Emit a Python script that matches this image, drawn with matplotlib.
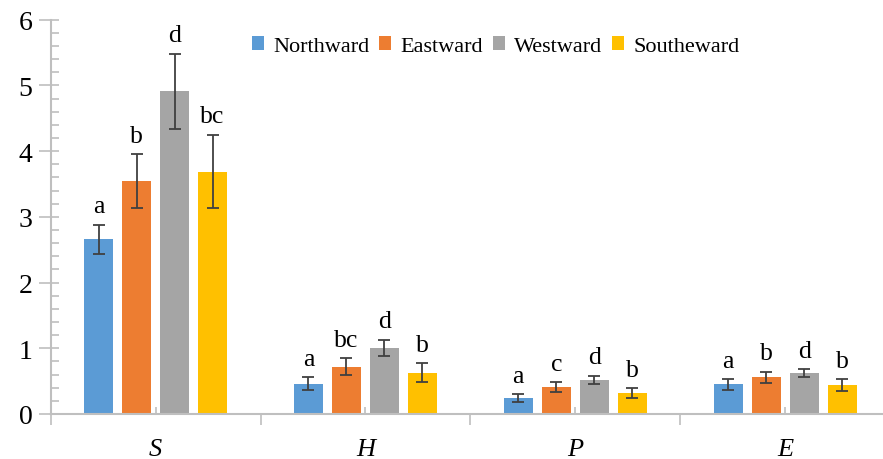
import matplotlib.pyplot as plt
import numpy as np

plt.rcParams['font.family'] = ['Liberation Serif', 'DejaVu Serif']

categories = ['S', 'H', 'P', 'E']
series = ['Northward', 'Eastward', 'Westward', 'Southeward']
colors = ['#5B9BD5', '#ED7D31', '#A5A5A5', '#FFC000']

# means per series across categories S, H, P, E
northward = [2.66, 0.46, 0.24, 0.45]
eastward = [3.54, 0.72, 0.41, 0.56]
westward = [4.91, 1.01, 0.52, 0.62]
southeward = [3.69, 0.63, 0.32, 0.44]

northward_err = [0.22, 0.10, 0.06, 0.08]
eastward_err = [0.41, 0.13, 0.075, 0.085]
westward_err = [0.57, 0.12, 0.06, 0.06]
southeward_err = [0.56, 0.14, 0.075, 0.085]

northward_sig = ['a', 'a', 'a', 'a']
eastward_sig = ['b', 'bc', 'c', 'b']
westward_sig = ['d', 'd', 'd', 'd']
southeward_sig = ['bc', 'b', 'b', 'b']

values = [northward, eastward, westward, southeward]
errors = [northward_err, eastward_err, westward_err, southeward_err]
letters = [northward_sig, eastward_sig, westward_sig, southeward_sig]

W, H = 883, 460
fig = plt.figure(figsize=(W / 100, H / 100), dpi=100)
left = 50.7 / W
bottom = (H - 415) / H
top = (H - 20.7) / H
ax = fig.add_axes([left, bottom, 1 - left, top - bottom])

x = np.arange(len(categories))
step = 0.181
width = 0.138
axis_gray = '#BFBFBF'

for i, name in enumerate(series):
    xs = x + (i - 1.5) * step
    ax.bar(xs, values[i], width, color=colors[i], label=name, zorder=2)
    ax.errorbar(xs, values[i], yerr=errors[i], fmt='none', ecolor='#404040',
                elinewidth=1.3, capsize=4, capthick=1.3, zorder=3)
    for xv, v, e, s in zip(xs, values[i], errors[i], letters[i]):
        ax.annotate(s, (xv, v + e), xytext=(0, 9), textcoords='offset points',
                    ha='center', va='baseline', fontsize=18.5)

ax.set_ylim(0, 6)
ax.set_xlim(-0.5, 3.5 - 7 / 210)
ax.yaxis.remove_overlapping_locs = False
ax.set_yticks(range(7))
ax.set_yticks(np.arange(0, 6.01, 0.2), minor=True)
ax.tick_params(axis='y', which='major', direction='out', length=9, width=1.2,
               color=axis_gray, labelsize=20, pad=4)
ax.tick_params(axis='y', which='minor', direction='in', length=6, width=1.2,
               color=axis_gray)

ax.set_xticks([-0.5, 0.5, 1.5, 2.5])
ax.set_xticklabels([])
ax.set_xticks(x, minor=True)
ax.set_xticklabels(categories, minor=True, fontstyle='italic', fontsize=19)
ax.tick_params(axis='x', which='major', direction='out', length=8, width=1.2,
               color=axis_gray)
ax.tick_params(axis='x', which='minor', direction='in', length=5, width=1.2,
               color=axis_gray, pad=17)

for side in ['top', 'right']:
    ax.spines[side].set_visible(False)
for side in ['left', 'bottom']:
    ax.spines[side].set_color(axis_gray)
    ax.spines[side].set_linewidth(1.5)

fig.legend(loc='center left', bbox_to_anchor=(252 / W, 1 - 47 / H), ncol=4,
           frameon=False, fontsize=16, handlelength=0.55, handleheight=0.55,
           handletextpad=0.4, columnspacing=0.45, borderpad=0, borderaxespad=0)

fig.savefig('out.png', dpi=100)
